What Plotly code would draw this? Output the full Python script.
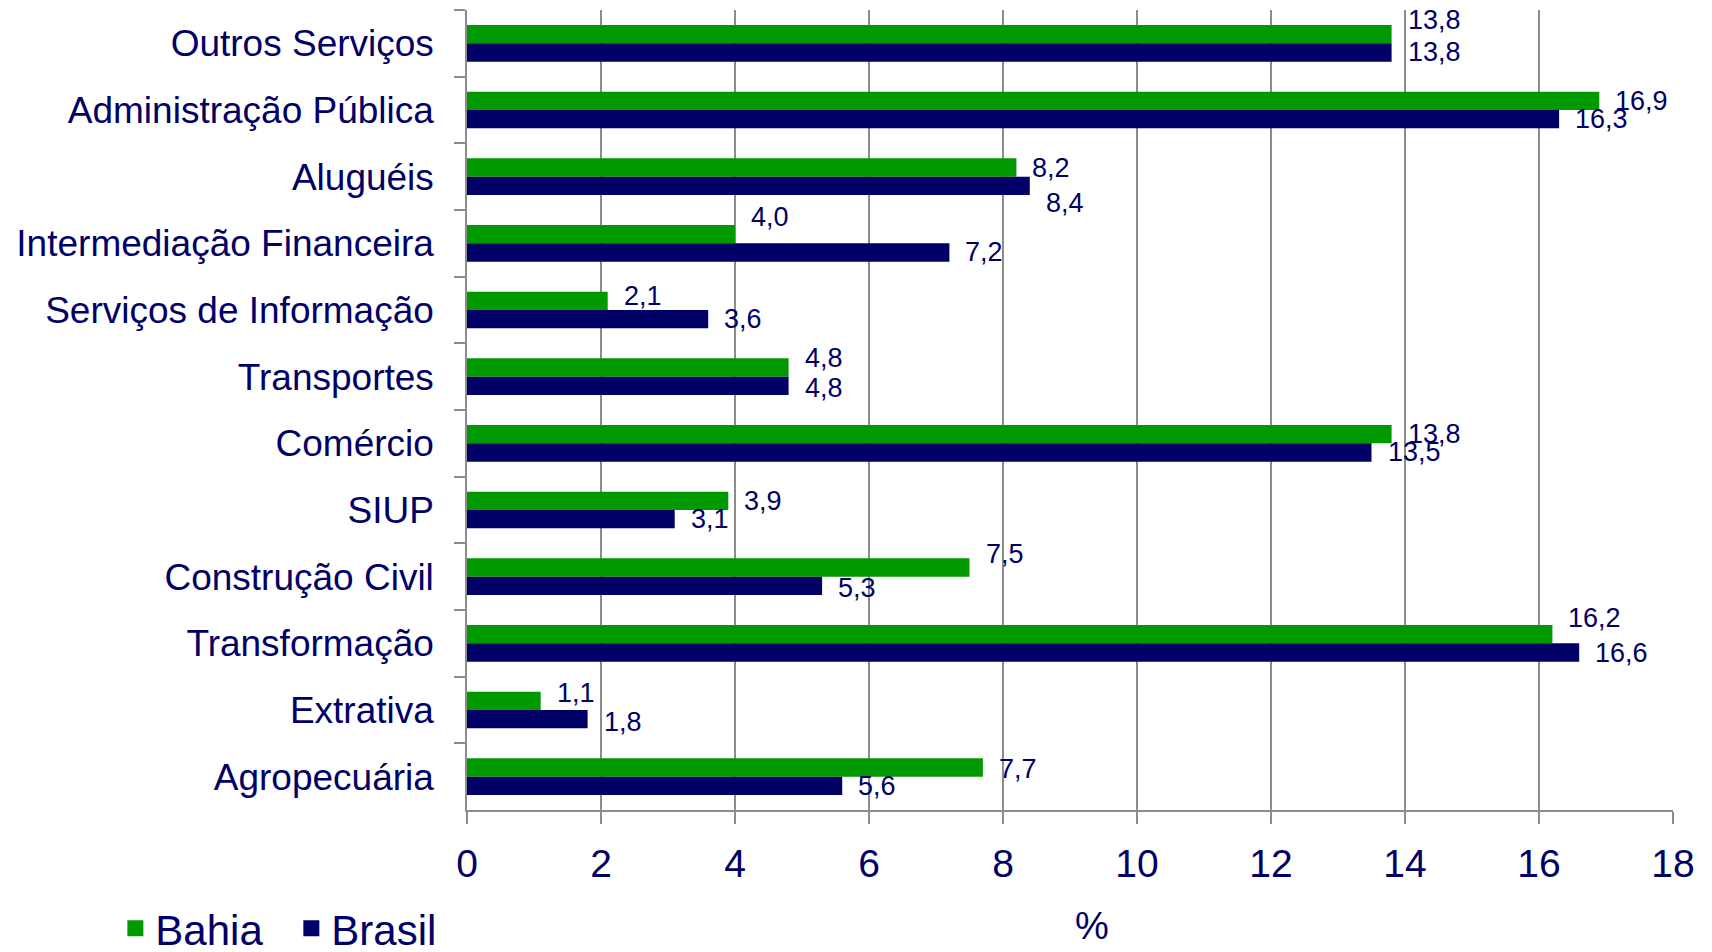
'''
    Participação dos setores no valor adicionado: Bahia x Brasil (%).
'''
import plotly.graph_objects as go

CATEGORIES = ['Outros Serviços', 'Administração Pública', 'Aluguéis',
              'Intermediação Financeira', 'Serviços de Informação', 'Transportes',
              'Comércio', 'SIUP', 'Construção Civil', 'Transformação',
              'Extrativa', 'Agropecuária']
BAHIA = [13.8, 16.9, 8.2, 4.0, 2.1, 4.8, 13.8, 3.9, 7.5, 16.2, 1.1, 7.7]
BRASIL = [13.8, 16.3, 8.4, 7.2, 3.6, 4.8, 13.5, 3.1, 5.3, 16.6, 1.8, 5.6]
X_TICKS = [0, 2, 4, 6, 8, 10, 12, 14, 16, 18]

GREEN = '#009900'
NAVY = '#000066'
GRID = '#8c8c8c'
FONT = 'Liberation Sans, Arial, sans-serif'

# vertical nudges (px) of the value labels, as placed in the original chart
NUDGE_BAHIA = [14, 0, 0, 17, 5, 10, 0, 0, 14, 16, 8, -1]
NUDGE_BRASIL = [0, 0, -17, 0, 0, -2, 0, 0, -2, -1, -3, 0]
BAR_HALF = 9


def fmt(v):
    return f'{v:.1f}'.replace('.', ',')


fig = go.Figure()
fig.add_trace(go.Bar(y=CATEGORIES, x=BAHIA, name='Bahia', orientation='h',
                     marker=dict(color=GREEN, line=dict(width=0)), showlegend=False))
fig.add_trace(go.Bar(y=CATEGORIES, x=BRASIL, name='Brasil', orientation='h',
                     marker=dict(color=NAVY, line=dict(width=0)), showlegend=False))
# legend entries with larger square keys
for name, color in [('Bahia', GREEN), ('Brasil', NAVY)]:
    fig.add_trace(go.Scatter(x=[None], y=[None], mode='markers', name=name,
                             marker=dict(symbol='square', size=22, color=color)))

annotations = []
for cat, vb, vr, nb, nr in zip(CATEGORIES, BAHIA, BRASIL, NUDGE_BAHIA, NUDGE_BRASIL):
    annotations.append(dict(x=vb, y=cat, text=fmt(vb), showarrow=False,
                            xanchor='left', xshift=14, yshift=BAR_HALF + nb,
                            font=dict(size=27, color=NAVY, family=FONT)))
    annotations.append(dict(x=vr, y=cat, text=fmt(vr), showarrow=False,
                            xanchor='left', xshift=14, yshift=-BAR_HALF + nr,
                            font=dict(size=27, color=NAVY, family=FONT)))
annotations.append(dict(x=0.518, y=-0.145, xref='paper', yref='paper', text='%',
                        showarrow=False, xanchor='center', yanchor='middle',
                        font=dict(size=38, color=NAVY, family=FONT)))

# the page adds an 8 px body margin, so the figure is 8 px smaller than the window
fig.update_layout(
    width=1704, height=944,
    margin=dict(l=459, r=39, t=2, b=142, autoexpand=False),
    plot_bgcolor='white', paper_bgcolor='white',
    barmode='group', bargap=0.45, bargroupgap=0,
    font=dict(family=FONT, color=NAVY),
    annotations=annotations,
    legend=dict(orientation='h', xref='container', yref='container',
                x=0.063, y=0.025, xanchor='left', yanchor='middle',
                font=dict(size=42, color=NAVY, family=FONT),
                itemsizing='trace', itemwidth=30, tracegroupgap=0,
                entrywidth=131),
    xaxis=dict(range=[0, 18], tickvals=X_TICKS, showgrid=True, gridcolor=GRID,
               gridwidth=1.5, showline=True, linecolor=GRID, linewidth=1.5,
               ticks='outside', ticklen=12, tickcolor=GRID, tickwidth=1.5,
               tickfont=dict(size=39, color=NAVY), zeroline=False,
               ticklabelstandoff=6, automargin=False, fixedrange=True),
    yaxis=dict(autorange='reversed', showline=True, linecolor=GRID, linewidth=1.5,
               ticks='outside', ticklen=11, tickcolor=GRID, tickwidth=1.5,
               tickson='boundaries', showgrid=False, automargin=False,
               tickfont=dict(size=37, color=NAVY), ticklabelstandoff=24),
)

fig.write_html('out.html')
